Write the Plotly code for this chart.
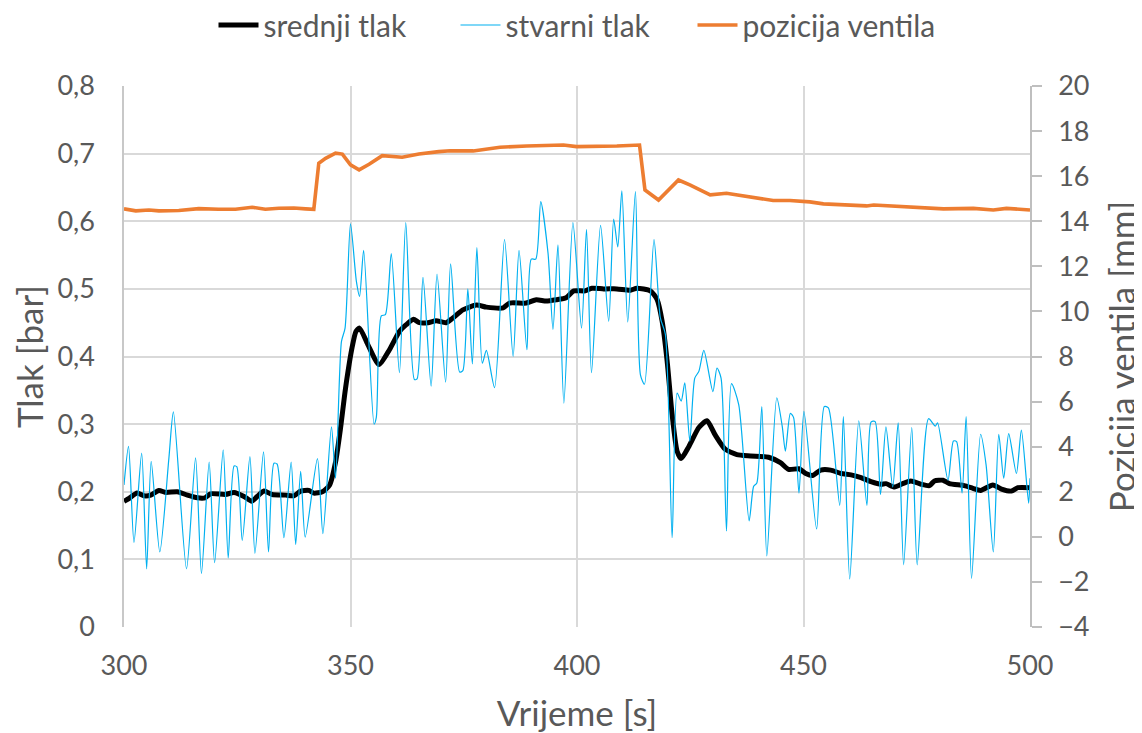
import plotly.graph_objects as go

# stvarni tlak (actual pressure)
t_blue = [300, 301, 302.2, 303.9, 305, 306, 307.9, 309.9, 310.9, 313.8, 315.8, 317.1, 318.8, 320, 321.9, 323,
          324.3, 324.9, 326.1, 327.8, 328.9, 330.8, 331.9, 333.1, 333.8, 335.3, 336.9, 337.9, 339, 340, 342.7,
          343.9, 345.8, 346.7, 348, 348.8, 350, 351.3, 352, 352.9, 355.2, 355.7, 356.8, 357.7, 359, 360.8, 362.2,
          364.1, 364.7, 366, 367.8, 369.1, 371, 372.1, 374.1, 374.8, 375.9, 376.9, 377.9, 379.1, 380, 381.8, 384,
          385.9, 387.2, 388.95, 389.9, 390.9, 392, 393.6, 394.7, 395.8, 397.1, 399.1, 401, 402.1, 403.2, 405.2,
          407, 408.1, 409, 409.9, 411.2, 412.9, 414, 414.9, 417, 418.4, 419.5, 421, 422.1, 423, 423.8, 424.9,
          426, 426.9, 428, 430, 430.9, 431.8, 433, 434.1, 435.7, 438, 439, 439.7, 440.8, 441.9, 444.1, 445.3,
          446, 447.1, 447.8, 449, 450.1, 452.9, 454.6, 455.5, 458, 458.8, 460.2, 462.2, 464, 464.9, 465.8, 467,
          468.2, 469.7, 470.9, 472.1, 473.9, 475.1, 477.6, 479.1, 479.6, 481.9, 483.1, 483.8, 485, 485.9, 487.1,
          489.1, 490.3, 491.9, 493.1, 494.2, 495.3, 497, 498.1, 499.7, 500]
p_blue = [0.21, 0.267, 0.125, 0.257, 0.086, 0.245, 0.111, 0.249, 0.318, 0.086, 0.25, 0.079, 0.244, 0.095, 0.262, 0.102,
          0.238, 0.237, 0.128, 0.252, 0.109, 0.259, 0.111, 0.242, 0.241, 0.132, 0.244, 0.122, 0.23, 0.133, 0.249,
          0.138, 0.296, 0.22, 0.422, 0.442, 0.596, 0.511, 0.489, 0.557, 0.30, 0.31, 0.46, 0.462, 0.552, 0.376, 0.598,
          0.366, 0.367, 0.517, 0.356, 0.522, 0.362, 0.537, 0.377, 0.379, 0.5, 0.389, 0.561, 0.39, 0.409, 0.354, 0.573,
          0.40, 0.557, 0.41, 0.544, 0.544, 0.629, 0.553, 0.44, 0.565, 0.331, 0.598, 0.442, 0.588, 0.376, 0.594,
          0.452, 0.603, 0.562, 0.645, 0.451, 0.644, 0.373, 0.359, 0.573, 0.457, 0.433, 0.132, 0.346, 0.334, 0.361, 0.275,
          0.368, 0.378, 0.409, 0.348, 0.383, 0.368, 0.142, 0.36, 0.329, 0.157, 0.208, 0.213, 0.326, 0.105, 0.339, 0.297,
          0.26, 0.316, 0.31, 0.198, 0.319, 0.145, 0.326, 0.324, 0.18, 0.311, 0.071, 0.305, 0.18, 0.303, 0.304, 0.196,
          0.296, 0.207, 0.302, 0.092, 0.295, 0.092, 0.308, 0.297, 0.302, 0.217, 0.275, 0.274, 0.198, 0.311, 0.072,
          0.285, 0.24, 0.111, 0.285, 0.22, 0.286, 0.227, 0.291, 0.183, 0.22]

# srednji tlak (mean pressure)
t_black = [300, 301.1, 302.9, 304.4, 305.9, 307.7, 309.2, 311.8, 314, 316.2, 317.9, 319.1, 322.4, 324.3, 326.5, 328.2,
           329.4, 330.9, 332.7, 335.7, 337.5, 339, 340.8, 341.9, 343.8, 345.4, 346.7, 347.8, 348.9, 350.4, 351.2, 352,
           353.8, 356.3, 358.6, 360.8, 362.3, 363.9, 365.2, 367.1, 368.9, 371.1, 372.6, 374.8, 377.8, 380, 383.7,
           385.1, 388.8, 391, 393.2, 395.4, 397.6, 399.3, 401.8, 403.3, 405.9, 408.8, 411.8, 413.2, 416.2, 417.7,
           418.8, 419.9, 421, 422.1, 423, 424.7, 426.9, 428.7, 430.5, 432.7, 435.3, 438.3, 442.3, 444.9, 446.7, 449,
           450.5, 452, 453.8, 456, 458.3, 460.5, 462.7, 464.9, 467.1, 468.2, 470.1, 471.9, 473.7, 476, 477.8, 478.9,
           480.8, 482.2, 485.5, 487.4, 489.1, 491.8, 493.7, 495.9, 497.3, 500]
p_black = [0.186, 0.19, 0.198, 0.194, 0.195, 0.202, 0.199, 0.2, 0.195, 0.191, 0.191, 0.197, 0.196, 0.199, 0.193, 0.186,
           0.193, 0.201, 0.196, 0.195, 0.194, 0.201, 0.202, 0.198, 0.2, 0.21, 0.244, 0.294, 0.353, 0.415, 0.437, 0.442,
           0.418, 0.388, 0.41, 0.437, 0.447, 0.455, 0.45, 0.45, 0.453, 0.45, 0.457, 0.469, 0.476, 0.473, 0.472,
           0.479, 0.479, 0.484, 0.482, 0.484, 0.487, 0.497, 0.497, 0.501, 0.5, 0.5, 0.498, 0.501, 0.497, 0.484,
           0.452, 0.393, 0.314, 0.26, 0.249, 0.267, 0.295, 0.305, 0.284, 0.263, 0.255, 0.253, 0.251, 0.243, 0.233, 0.234,
           0.227, 0.224, 0.232, 0.232, 0.227, 0.225, 0.221, 0.215, 0.211, 0.212, 0.207, 0.212, 0.216, 0.211, 0.209, 0.216,
           0.217, 0.212, 0.209, 0.205, 0.202, 0.21, 0.204, 0.201, 0.206, 0.206]

# pozicija ventila (valve position, mm)
t_orange = [300, 302.6, 305.5, 307.7, 312.1, 316.5, 320.9, 324.6, 328.3, 331.2, 334.2, 337.5, 340.1, 341.9, 343,
            344.5, 346.7, 348.2, 350, 351.9, 354.1, 357, 361.4, 365.1, 369.5, 372, 377.1, 383, 388.9, 397, 399.9,
            404.3, 408.8, 413.8, 415, 418, 422.4, 424.9, 429.4, 433, 438.2, 443.3, 447, 451.4, 454.4, 463.9, 465.5,
            474.2, 476.3, 480.9, 487.5, 491.9, 494.8, 500]
v_orange = [14.55, 14.46, 14.5, 14.46, 14.48, 14.56, 14.53, 14.53, 14.62, 14.53, 14.58, 14.59, 14.55, 14.53, 16.57,
            16.79, 17.02, 16.98, 16.5, 16.28, 16.53, 16.91, 16.84, 16.98, 17.09, 17.13, 17.12, 17.28, 17.34, 17.38, 17.31,
            17.31, 17.34, 17.38, 15.39, 14.94, 15.83, 15.61, 15.17, 15.24, 15.09, 14.92, 14.92, 14.86, 14.77, 14.68, 14.72,
            14.62, 14.63, 14.55, 14.57, 14.5, 14.57, 14.5]

left_ticks = [0, 0.1, 0.2, 0.3, 0.4, 0.5, 0.6, 0.7, 0.8]
left_labels = ["0", "0,1", "0,2", "0,3", "0,4", "0,5", "0,6", "0,7", "0,8"]
right_ticks = [-4, -2, 0, 2, 4, 6, 8, 10, 12, 14, 16, 18, 20]
x_ticks = [300, 350, 400, 450, 500]

FONT = "Lato, 'Open Sans', sans-serif"
TXT = "#595959"
GRID = "#d9d9d9"

# the page body has an 8px default margin; figure is sized/margined to compensate
W, H = 1134, 725

fig = go.Figure()
fig.add_trace(go.Scatter(x=t_black, y=p_black, name="srednji tlak", mode="lines", legendwidth=187,
                         line=dict(color="#000000", width=5, shape="spline", smoothing=0.6)))
fig.add_trace(go.Scatter(x=t_blue, y=p_blue, name="stvarni tlak", mode="lines", legendwidth=182,
                         line=dict(color="#00b0f0", width=1.2, shape="spline", smoothing=0.7)))
fig.add_trace(go.Scatter(x=t_orange, y=v_orange, name="pozicija ventila", mode="lines", yaxis="y2",
                         line=dict(color="#ed7d31", width=3.6)))

fig.update_layout(
    width=W, height=H,
    margin=dict(l=116, r=112, t=78, b=106, autoexpand=False),
    paper_bgcolor="white", plot_bgcolor="white",
    font=dict(family=FONT, color=TXT, size=27),
    showlegend=True,
    legend=dict(orientation="h", x=0.5, xanchor="center", y=1 - 17 / H, yanchor="middle",
                yref="container", font=dict(size=30, color=TXT), itemwidth=40,
                bgcolor="rgba(0,0,0,0)"),
    xaxis=dict(range=[300, 500], tickvals=x_ticks, showgrid=True, gridcolor=GRID, gridwidth=1.5,
               zeroline=False, showline=False, automargin=False,
               ticks="", ticklabelstandoff=20, tickfont=dict(size=27),
               title=dict(text="Vrijeme [s]", font=dict(size=35, color=TXT), standoff=22)),
    yaxis=dict(range=[0, 0.8], tickvals=left_ticks, ticktext=left_labels, showgrid=True, gridcolor=GRID,
               gridwidth=1.5, zeroline=False, showline=True, linecolor="#c8c8c8", linewidth=1.5,
               automargin=False, ticks="", ticklabelstandoff=22, tickfont=dict(size=27),
               title=dict(text="Tlak [bar]", font=dict(size=35, color=TXT), standoff=6)),
    yaxis2=dict(range=[-4, 20], tickvals=right_ticks, overlaying="y", side="right", showgrid=False,
                zeroline=False, showline=True, linecolor="#bfbfbf", linewidth=1.5, automargin=False,
                ticks="outside", ticklen=10, tickcolor="#bfbfbf", tickwidth=1.5, ticklabelstandoff=11,
                tickfont=dict(size=27),
                title=dict(text="Pozicija ventila [mm]", font=dict(size=35, color=TXT), standoff=22)),
)

fig.write_html("out.html")
